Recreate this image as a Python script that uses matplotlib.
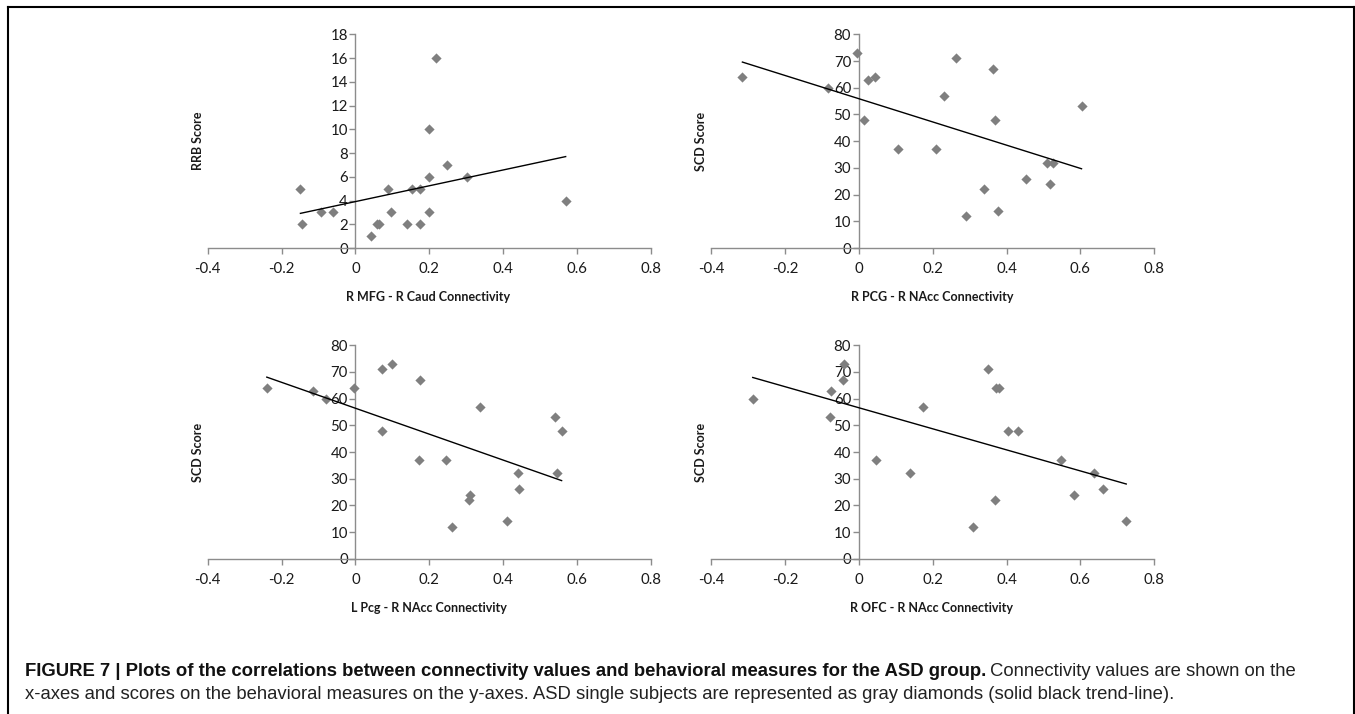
import numpy as np
import matplotlib
matplotlib.use("Agg")
import matplotlib.pyplot as plt
from matplotlib.lines import Line2D

# panel 1: R MFG - R Caud vs RRB
mfg_x = [-0.149, -0.144, -0.094, -0.062, 0.041, 0.057, 0.064, 0.087, 0.097, 0.139,
         0.154, 0.176, 0.176, 0.198, 0.199, 0.198, 0.218, 0.248, 0.303, 0.569]
mfg_y = [5, 2, 3, 3, 1, 2, 2, 5, 3, 2, 5, 5, 2, 10, 6, 3, 16, 7, 6, 4]
mfg_fit = [6.66, 3.91]  # slope, intercept

# panel 2: R PCG - R NAcc vs SCD
rpcg_x = [-0.315, -0.083, -0.005, 0.014, 0.024, 0.045, 0.106, 0.208, 0.231, 0.263,
          0.291, 0.338, 0.363, 0.369, 0.377, 0.454, 0.509, 0.526, 0.517, 0.603]
rpcg_y = [64, 60, 73, 48, 63, 64, 37, 37, 57, 71, 12, 22, 67, 48, 14, 26, 32, 32, 24, 53]
rpcg_fit = [-43.5, 55.9]

# panel 3: L Pcg - R NAcc vs SCD
lpcg_x = [-0.240, -0.116, -0.079, -0.003, 0.072, 0.100, 0.071, 0.174, 0.171, 0.245,
          0.337, 0.262, 0.310, 0.307, 0.411, 0.441, 0.443, 0.539, 0.558, 0.545]
lpcg_y = [64, 63, 60, 64, 71, 73, 48, 67, 37, 37, 57, 12, 24, 22, 14, 32, 26, 53, 48, 32]
lpcg_fit = [-48.6, 56.4]

# panel 4: R OFC - R NAcc vs SCD
ofc_x = [-0.287, -0.076, -0.079, -0.042, -0.039, 0.046, 0.140, 0.173, 0.310, 0.349,
         0.370, 0.372, 0.379, 0.404, 0.431, 0.547, 0.582, 0.636, 0.662, 0.724]
ofc_y = [60, 63, 53, 67, 73, 37, 32, 57, 12, 71, 22, 64, 64, 48, 48, 37, 24, 32, 26, 14]
ofc_fit = [-39.5, 56.6]

x_ticks = [-0.4, -0.2, 0, 0.2, 0.4, 0.6, 0.8]
x_tick_labels = ["-0.4", "-0.2", "0", "0.2", "0.4", "0.6", "0.8"]

panels = [
    (mfg_x, mfg_y, mfg_fit, "RRB Score", "R MFG - R Caud Connectivity", 18, 2),
    (rpcg_x, rpcg_y, rpcg_fit, "SCD Score", "R PCG - R NAcc Connectivity", 80, 10),
    (lpcg_x, lpcg_y, lpcg_fit, "SCD Score", "L Pcg - R NAcc Connectivity", 80, 10),
    (ofc_x, ofc_y, ofc_fit, "SCD Score", "R OFC - R NAcc Connectivity", 80, 10),
]

W, H = 1355, 714
fig = plt.figure(figsize=(W / 100, H / 100), dpi=100)
fig.patch.set_facecolor("white")

# axes boxes in pixels: left, top (y=max), right, bottom (y=0)
boxes = [(207.7, 34.3, 651.0, 248.0), (711.0, 34.3, 1154.3, 248.0),
         (207.7, 345.3, 651.0, 558.7), (711.0, 345.3, 1154.3, 558.7)]

axis_gray = "#8c8c8c"
tick_font = "Lato"

for (px, py, fit, ylab, xlab, ymax, ystep), (l, t, r, b) in zip(panels, boxes):
    ax = fig.add_axes([l / W, 1 - b / H, (r - l) / W, (b - t) / H])
    ax.set_xlim(-0.4, 0.8)
    ax.set_ylim(0, ymax)
    ax.patch.set_alpha(0)

    ax.scatter(px, py, marker="D", s=5.2 ** 2, color="#7f7f7f", linewidths=0, zorder=3)
    xs = np.array([min(px), max(px)])
    ax.plot(xs, fit[0] * xs + fit[1], color="black", lw=1.0, zorder=4)

    # excel style axes crossing at 0
    ax.spines["left"].set_position(("data", 0))
    ax.spines["bottom"].set_position(("data", 0))
    ax.spines["right"].set_visible(False)
    ax.spines["top"].set_visible(False)
    for s in ("left", "bottom"):
        ax.spines[s].set_color(axis_gray)
        ax.spines[s].set_linewidth(1.0)

    ax.set_xticks(x_ticks)
    ax.set_xticklabels(x_tick_labels)
    ax.set_yticks(np.arange(0, ymax + 1, ystep))
    ax.set_yticklabels([str(v) for v in range(0, ymax + 1, ystep)])
    ax.tick_params(axis="x", direction="out", length=4, width=1, color=axis_gray, pad=6)
    ax.tick_params(axis="y", direction="out", length=4, width=1, color=axis_gray, pad=1.5)
    for lbl in ax.get_xticklabels() + ax.get_yticklabels():
        lbl.set_fontfamily(tick_font)
        lbl.set_fontsize(10.8)
        lbl.set_color("#1a1a1a")

    ax.text(-0.022, 0.5, ylab, transform=ax.transAxes, rotation=90, ha="center", va="center",
            fontfamily=tick_font, fontweight="bold", fontsize=9.0, color="#1a1a1a")
    ax.text(0.498, -0.229, xlab, transform=ax.transAxes, ha="center", va="center",
            fontfamily=tick_font, fontweight="bold", fontsize=9.0, color="#1a1a1a")

# frame around figure + caption
lw = 1.5
fig.add_artist(Line2D([8 / W, 1354 / W], [1 - 7 / H, 1 - 7 / H], color="black", lw=lw))
fig.add_artist(Line2D([8 / W, 8 / W], [0, 1 - 7 / H], color="black", lw=lw))
fig.add_artist(Line2D([1354 / W, 1354 / W], [0, 1 - 7 / H], color="black", lw=lw))

cap_font = "Liberation Sans"
cap_size = 13.35
bold_part = "FIGURE 7 | Plots of the correlations between connectivity values and behavioral measures for the ASD group."
t1 = fig.text(25 / W, 1 - 676 / H, bold_part, fontfamily=cap_font, fontweight="bold",
              fontsize=cap_size, va="baseline", ha="left", color="#111111")
fig.canvas.draw()
bb = t1.get_window_extent(renderer=fig.canvas.get_renderer())
fig.text(bb.x1 / W + 4 / W, 1 - 676 / H, "Connectivity values are shown on the",
         fontfamily=cap_font, fontsize=cap_size, va="baseline", ha="left", color="#222222")
fig.text(25 / W, 1 - 699 / H,
         "x-axes and scores on the behavioral measures on the y-axes. ASD single subjects are represented as gray diamonds (solid black trend-line).",
         fontfamily=cap_font, fontsize=cap_size, va="baseline", ha="left", color="#222222")

fig.savefig("out.png", dpi=100)
